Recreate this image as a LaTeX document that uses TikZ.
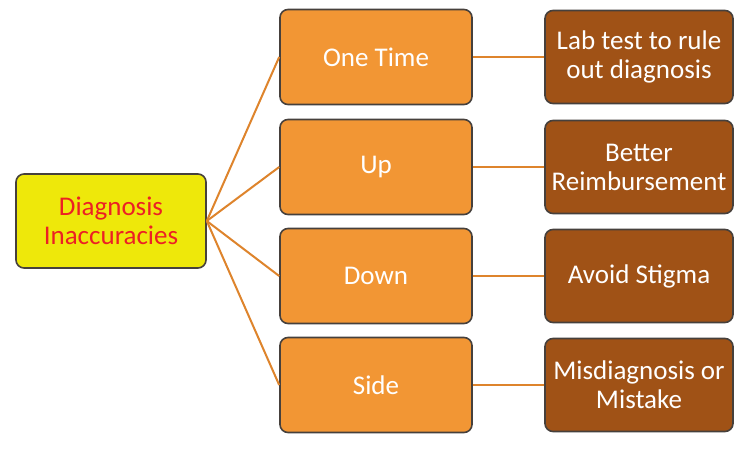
\documentclass[tikz,border=0pt]{standalone}
\usepackage{fontspec}
\setmainfont{Carlito}
\definecolor{yel}{RGB}{238,232,10}
\definecolor{ora}{RGB}{242,150,52}
\definecolor{bro}{RGB}{160,82,22}
\definecolor{edge}{RGB}{70,64,60}
\definecolor{conn}{RGB}{222,132,44}
\definecolor{redtxt}{RGB}{236,32,36}
\begin{document}
\begin{tikzpicture}[x=1pt,y=-1pt,
  box/.style={draw=edge,line width=1.6pt,rounded corners=8pt,align=center,
    inner sep=0pt,font=\fontsize{27}{29}\selectfont},
  rootbox/.style={box,fill=yel,text=redtxt,minimum width=190pt,minimum height=94pt},
  midbox/.style={box,fill=ora,text=white,minimum width=192pt,minimum height=95pt},
  leafbox/.style={box,fill=bro,text=white,minimum width=188pt,minimum height=93pt},
  link/.style={draw=conn,line width=2pt}]
\useasboundingbox[fill=white] (0,0) rectangle (736,452);
\node[rootbox] (root) at (111,221) {Diagnosis\\Inaccuracies};
\node[midbox] (m1) at (376,57) {One Time};
\node[midbox] (m2) at (376,167) {Up};
\node[midbox] (m3) at (376,276) {Down};
\node[midbox] (m4) at (376,385) {Side};
\node[leafbox] (l1) at (639,57) {Lab test to rule\\out diagnosis};
\node[leafbox] (l2) at (639,167) {Better\\Reimbursement};
\node[leafbox] (l3) at (639,276) {Avoid Stigma};
\node[leafbox] (l4) at (639,385) {Misdiagnosis or\\Mistake};
\foreach \i in {1,2,3,4}{
  \draw[link] (root.east) -- (m\i.west);
  \draw[link] (m\i.east) -- (l\i.west);
}
\end{tikzpicture}
\end{document}
